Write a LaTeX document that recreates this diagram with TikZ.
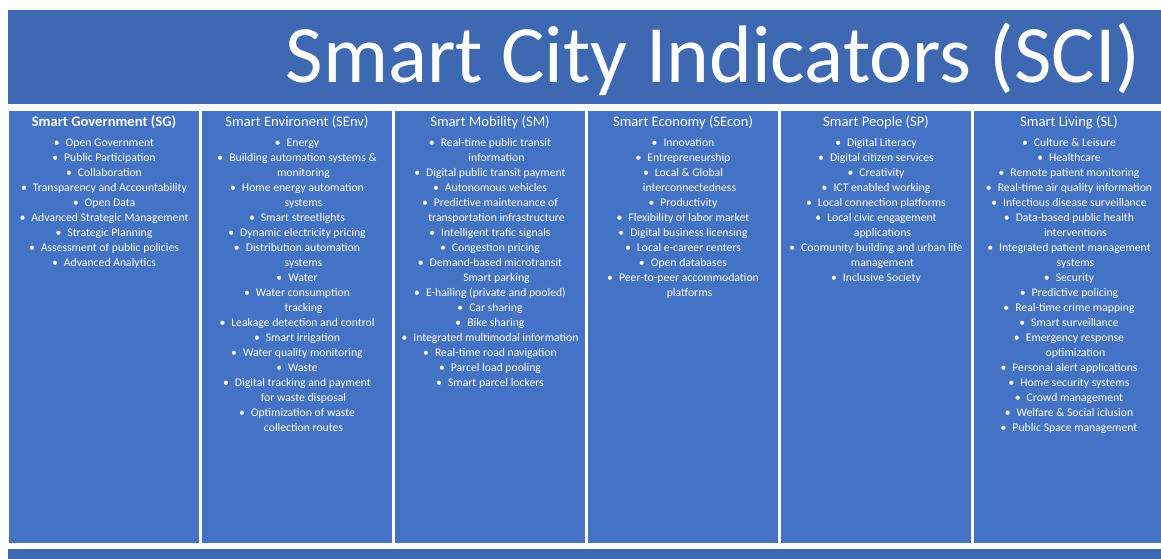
\documentclass[tikz,border=0pt]{standalone}
\usepackage{fontspec}
\setmainfont{Carlito}
\definecolor{bandblue}{RGB}{63,104,178}
\definecolor{colblue}{RGB}{68,114,196}
\newcommand{\itm}[1]{\textbullet\hspace{6pt}#1}
\newcommand{\cnt}[1]{\hspace*{13pt}#1}

\begin{document}
\begin{tikzpicture}[x=1pt, y=-1pt]
  \tikzset{
    band/.style={fill=bandblue, draw=none, anchor=north west, inner sep=0pt},
    column/.style={fill=colblue, draw=none, anchor=north west, inner sep=0pt,
                   minimum width=190pt, minimum height=432pt},
    head/.style={text=white, font=\fontsize{14.6}{17}\selectfont, anchor=base, inner sep=0pt},
    items/.style={text=white, font=\fontsize{11.7}{15}\selectfont, align=center,
                  anchor=north, inner sep=0pt}
  }
  \useasboundingbox (0,0) rectangle (1161,558);
  \fill[white] (0,0) rectangle (1161,558);

  \node[band, minimum width=1160pt, minimum height=94pt] (titleband) at (8,10) {};
  \node[text=white, font=\fontsize{81.5}{90}\selectfont, anchor=base east, inner sep=0pt]
    (title) at (1141,82) {Smart City Indicators (SCI)};

  \node[column] (colsg)   at (9,111)   {};
  \node[column] (colsenv) at (202,111) {};
  \node[column] (colsm)   at (395,111) {};
  \node[column] (colsec)  at (588,111) {};
  \node[column] (colsp)   at (781,111) {};
  \node[column] (colsl)   at (974,111) {};

  \node[band, minimum width=1160pt, minimum height=12pt] (footband) at (8,549) {};

  \node[head, font=\fontsize{14.6}{17}\selectfont\bfseries] (hsg) at (104,126) {Smart Government (SG)};
  \node[items] (lsg) at (104,135.5) {\strut\itm{Open Government}\\
    \itm{Public Participation}\\
    \itm{Collaboration}\\
    \itm{Transparency and Accountability}\\
    \itm{Open Data}\\
    \itm{Advanced Strategic Management}\\
    \itm{Strategic Planning}\\
    \itm{Assessment of public policies}\\
    \itm{Advanced Analytics}};

  \node[head] (hsenv) at (297,126) {Smart Environent (SEnv)};
  \node[items] (lsenv) at (297,135.5) {\strut\itm{Energy}\\
    \itm{Building automation systems \&}\\
    \cnt{monitoring}\\
    \itm{Home energy automation}\\
    \cnt{systems}\\
    \itm{Smart streetlights}\\
    \itm{Dynamic electricity pricing}\\
    \itm{Distribution automation}\\
    \cnt{systems}\\
    \itm{Water}\\
    \itm{Water consumption}\\
    \cnt{tracking}\\
    \itm{Leakage detection and control}\\
    \itm{Smart irrigation}\\
    \itm{Water quality monitoring}\\
    \itm{Waste}\\
    \itm{Digital tracking and payment}\\
    \cnt{for waste disposal}\\
    \itm{Optimization of waste}\\
    \cnt{collection routes}};

  \node[head] (hsm) at (490,126) {Smart Mobility (SM)};
  \node[items] (lsm) at (490,135.5) {\strut\itm{Real-time public transit}\\
    \cnt{information}\\
    \itm{Digital public transit payment}\\
    \itm{Autonomous vehicles}\\
    \itm{Predictive maintenance of}\\
    \cnt{transportation infrastructure}\\
    \itm{Intelligent trafic signals}\\
    \itm{Congestion pricing}\\
    \itm{Demand-based microtransit}\\
    \cnt{Smart parking}\\
    \itm{E-hailing (private and pooled)}\\
    \itm{Car sharing}\\
    \itm{Bike sharing}\\
    \itm{Integrated multimodal information}\\
    \itm{Real-time road navigation}\\
    \itm{Parcel load pooling}\\
    \itm{Smart parcel lockers}};

  \node[head] (hsec) at (683,126) {Smart Economy (SEcon)};
  \node[items] (lsec) at (683,135.5) {\strut\itm{Innovation}\\
    \itm{Entrepreneurship}\\
    \itm{Local \& Global}\\
    \cnt{interconnectedness}\\
    \itm{Productivity}\\
    \itm{Flexibility of labor market}\\
    \itm{Digital business licensing}\\
    \itm{Local e-career centers}\\
    \itm{Open databases}\\
    \itm{Peer-to-peer accommodation}\\
    \cnt{platforms}};

  \node[head] (hsp) at (876,126) {Smart People (SP)};
  \node[items] (lsp) at (876,135.5) {\strut\itm{Digital Literacy}\\
    \itm{Digital citizen services}\\
    \itm{Creativity}\\
    \itm{ICT enabled working}\\
    \itm{Local connection platforms}\\
    \itm{Local civic engagement}\\
    \cnt{applications}\\
    \itm{Coomunity building and urban life}\\
    \cnt{management}\\
    \itm{Inclusive Society}};

  \node[head] (hsl) at (1069,126) {Smart Living (SL)};
  \node[items] (lsl) at (1069,135.5) {\strut\itm{Culture \& Leisure}\\
    \itm{Healthcare}\\
    \itm{Remote patient monitoring}\\
    \itm{Real-time air quality information}\\
    \itm{Infectious disease surveillance}\\
    \itm{Data-based public health}\\
    \cnt{interventions}\\
    \itm{Integrated patient management}\\
    \cnt{systems}\\
    \itm{Security}\\
    \itm{Predictive policing}\\
    \itm{Real-time crime mapping}\\
    \itm{Smart surveillance}\\
    \itm{Emergency response}\\
    \cnt{optimization}\\
    \itm{Personal alert applications}\\
    \itm{Home security systems}\\
    \itm{Crowd management}\\
    \itm{Welfare \& Social iclusion}\\
    \itm{Public Space management}};
\end{tikzpicture}
\end{document}
